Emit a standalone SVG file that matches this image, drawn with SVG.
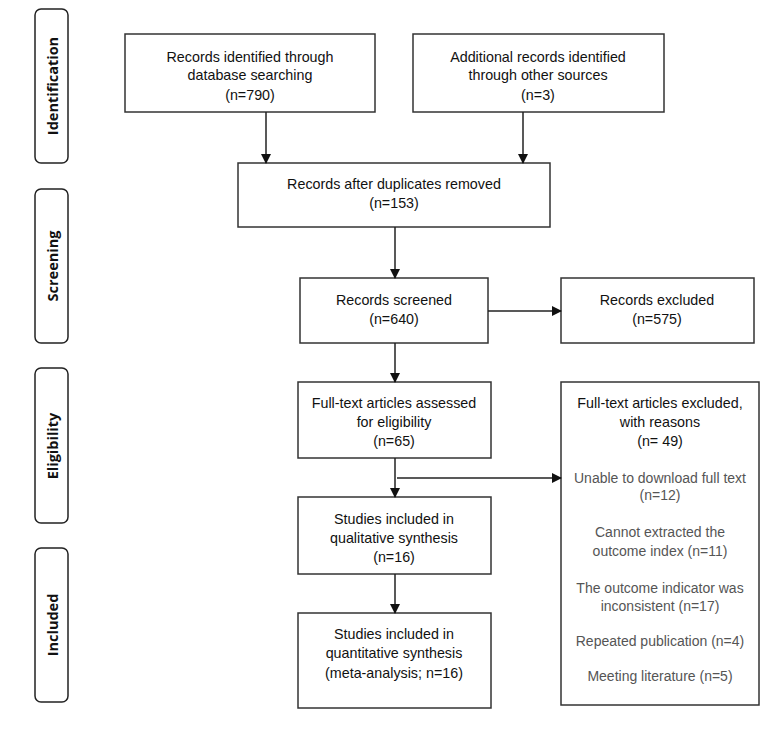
<svg xmlns="http://www.w3.org/2000/svg" width="778" height="731" viewBox="0 0 778 731">
<style>
.box{fill:#fff;stroke:#333;stroke-width:1.5}
.side{fill:#fff;stroke:#222;stroke-width:1.5}
.t{font-family:"Liberation Sans",Arial,sans-serif;font-size:14.3px;fill:#111;text-anchor:middle}
.g{font-family:"Liberation Sans",Arial,sans-serif;font-size:14px;fill:#555;text-anchor:middle}
.s{font-family:"Open Sans","Liberation Sans",sans-serif;font-size:14.5px;font-weight:bold;fill:#111;text-anchor:middle}
.c{stroke:#222;stroke-width:1.5;fill:none;marker-end:url(#ah)}
</style>
<defs>
<marker id="ah" markerWidth="10" markerHeight="10" refX="9" refY="5" orient="auto" markerUnits="userSpaceOnUse">
<path d="M0,0 L10,5 L0,10 z" fill="#111"/>
</marker>
</defs>
<rect width="778" height="731" fill="#fff"/>
<g id="side-identification"><rect class="side" x="35" y="9" width="33" height="154" rx="6"/><text class="s" transform="translate(58,86) rotate(-90)">Identification</text></g>
<g id="side-screening"><rect class="side" x="35" y="189" width="33" height="154" rx="6"/><text class="s" transform="translate(58,266) rotate(-90)">Screening</text></g>
<g id="side-eligibility"><rect class="side" x="35" y="368" width="33" height="155" rx="6"/><text class="s" transform="translate(58,446) rotate(-90)">Eligibility</text></g>
<g id="side-included"><rect class="side" x="35" y="548" width="33" height="154" rx="6"/><text class="s" transform="translate(58,625) rotate(-90)">Included</text></g>

<g id="n-db"><rect class="box" x="125" y="34" width="250" height="78"/>
<text class="t" x="250" y="62">Records identified through</text>
<text class="t" x="250" y="80">database searching</text>
<text class="t" x="250" y="100">(n=790)</text></g>
<g id="n-other"><rect class="box" x="413" y="34" width="251" height="78"/>
<text class="t" x="538" y="62">Additional records identified</text>
<text class="t" x="538" y="80">through other sources</text>
<text class="t" x="538" y="100">(n=3)</text></g>
<g id="n-dup"><rect class="box" x="238" y="163" width="312" height="64"/>
<text class="t" x="394" y="189">Records after duplicates removed</text>
<text class="t" x="394" y="208">(n=153)</text></g>
<g id="n-screened"><rect class="box" x="300" y="278" width="188" height="65"/>
<text class="t" x="394" y="305">Records screened</text>
<text class="t" x="394" y="324">(n=640)</text></g>
<g id="n-excluded"><rect class="box" x="561" y="278" width="193" height="65"/>
<text class="t" x="657" y="305">Records excluded</text>
<text class="t" x="657" y="324">(n=575)</text></g>
<g id="n-fulltext"><rect class="box" x="298" y="382" width="193" height="76"/>
<text class="t" x="394" y="408">Full-text articles assessed</text>
<text class="t" x="394" y="427">for eligibility</text>
<text class="t" x="394" y="446">(n=65)</text></g>
<g id="n-ftexcl"><rect class="box" x="561" y="382" width="198" height="323"/>
<text class="t" x="660" y="408">Full-text articles excluded,</text>
<text class="t" x="660" y="427">with reasons</text>
<text class="t" x="660" y="446">(n= 49)</text>
<text class="g" x="660" y="483">Unable to download full text</text>
<text class="g" x="660" y="500">(n=12)</text>
<text class="g" x="660" y="537">Cannot extracted the</text>
<text class="g" x="660" y="556">outcome index (n=11)</text>
<text class="g" x="660" y="593">The outcome indicator was</text>
<text class="g" x="660" y="611">inconsistent (n=17)</text>
<text class="g" x="660" y="646">Repeated publication (n=4)</text>
<text class="g" x="660" y="681">Meeting literature (n=5)</text></g>
<g id="n-qual"><rect class="box" x="298" y="497" width="193" height="77"/>
<text class="t" x="394" y="524">Studies included in</text>
<text class="t" x="394" y="543">qualitative synthesis</text>
<text class="t" x="394" y="562">(n=16)</text></g>
<g id="n-quant"><rect class="box" x="298" y="613" width="193" height="95"/>
<text class="t" x="394" y="639">Studies included in</text>
<text class="t" x="394" y="658">quantitative synthesis</text>
<text class="t" x="394" y="678">(meta-analysis; n=16)</text></g>

<g id="connectors">
<line class="c" x1="266" y1="112" x2="266" y2="163"/>
<line class="c" x1="523" y1="112" x2="523" y2="163"/>
<line class="c" x1="395" y1="227" x2="395" y2="278"/>
<line class="c" x1="488" y1="311" x2="561" y2="311"/>
<line class="c" x1="395" y1="343" x2="395" y2="382"/>
<line class="c" x1="395" y1="458" x2="395" y2="497"/>
<line class="c" x1="397" y1="478" x2="561" y2="478"/>
<line class="c" x1="395" y1="574" x2="395" y2="613"/>
</g>
</svg>
